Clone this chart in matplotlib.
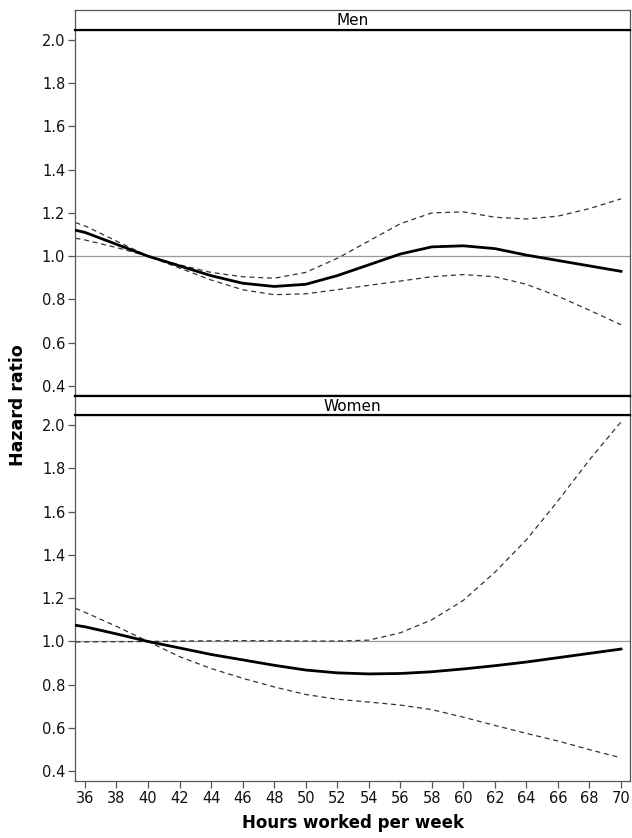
import numpy as np
import matplotlib
matplotlib.use("Agg")
import matplotlib.pyplot as plt

plt.rcParams['font.family'] = ['DejaVu Sans']

# hours worked per week
hours = [35.4, 36, 38, 40, 42, 44, 46, 48, 50, 52, 54, 56, 58, 60, 62, 64, 66, 68, 70]

# Men: hazard ratio and 95% CI
men_hr = [1.12, 1.11, 1.055, 1.0, 0.955, 0.91, 0.875, 0.86, 0.87, 0.91, 0.96, 1.01,
          1.043, 1.048, 1.035, 1.005, 0.98, 0.955, 0.93]
men_upper = [1.155, 1.14, 1.07, 1.0, 0.96, 0.925, 0.905, 0.898, 0.925, 0.99, 1.07, 1.15,
             1.2, 1.205, 1.18, 1.172, 1.185, 1.22, 1.265]
men_lower = [1.083, 1.075, 1.04, 1.0, 0.945, 0.89, 0.845, 0.822, 0.826, 0.845, 0.865, 0.885,
             0.905, 0.915, 0.905, 0.87, 0.815, 0.75, 0.683]

# Women: hazard ratio and 95% CI
women_hr = [1.075, 1.068, 1.035, 1.0, 0.97, 0.94, 0.915, 0.89, 0.868, 0.855, 0.85, 0.852,
            0.86, 0.873, 0.888, 0.905, 0.925, 0.945, 0.965]
women_upper = [0.998, 0.998, 0.999, 1.0, 1.002, 1.003, 1.004, 1.003, 1.002, 1.002, 1.006, 1.04,
               1.1, 1.19, 1.32, 1.47, 1.65, 1.84, 2.015]
women_lower = [1.153, 1.135, 1.07, 1.0, 0.93, 0.875, 0.83, 0.79, 0.755, 0.733, 0.72, 0.706,
               0.685, 0.65, 0.612, 0.575, 0.54, 0.5, 0.462]

panels = [("Men", men_hr, men_upper, men_lower),
          ("Women", women_hr, women_upper, women_lower)]

xticks = list(range(36, 71, 2))
yticks = [0.4, 0.6, 0.8, 1.0, 1.2, 1.4, 1.6, 1.8, 2.0]

W, H = 632, 838
fig = plt.figure(figsize=(W / 100, H / 100), dpi=100)

left = 75 / W
width = (630 - 75) / W
spine_col = "#555555"

# pixel positions of panels: (strip top, axes top, axes bottom)
layout = [(10.3, 29.7, 395.7), (395.7, 415.0, 781.0)]

for i, (name, hr, up, lo) in enumerate(panels):
    s_top, a_top, a_bot = layout[i]
    ax = fig.add_axes([left, 1 - a_bot / H, width, (a_bot - a_top) / H])
    ax.axhline(1.0, color="#999999", lw=0.9, zorder=1)
    ax.plot(hours, up, color="#333333", lw=0.9, ls=(0, (4, 3)), zorder=2)
    ax.plot(hours, lo, color="#333333", lw=0.9, ls=(0, (4, 3)), zorder=2)
    ax.plot(hours, hr, color="black", lw=2.0, zorder=3)
    ax.set_xlim(35.37, 70.57)
    ax.set_ylim(0.355, 2.047)
    ax.set_yticks(yticks)
    ax.set_yticklabels(["%.1f" % v for v in yticks])
    ax.set_xticks(xticks)
    ax.tick_params(axis="both", direction="out", length=5, width=0.9, color=spine_col,
                   labelsize=10.5, labelcolor="#111111", pad=2)
    for s in ax.spines.values():
        s.set_color(spine_col)
        s.set_linewidth(0.9)
    if i == 0:
        ax.tick_params(axis="x", bottom=False, labelbottom=False)
        ax.spines["bottom"].set_color("black")
        ax.spines["bottom"].set_linewidth(1.6)
    else:
        ax.set_xlabel("Hours worked per week", fontsize=12, fontweight="bold", labelpad=6)

    # header strip
    st = fig.add_axes([left, 1 - a_top / H, width, (a_top - s_top) / H])
    st.set_xticks([])
    st.set_yticks([])
    for s in st.spines.values():
        s.set_color(spine_col)
        s.set_linewidth(0.9)
    st.spines["bottom"].set_color("black")
    st.spines["bottom"].set_linewidth(1.6)
    if i == 1:
        st.spines["top"].set_color("black")
        st.spines["top"].set_linewidth(1.6)
    st.text(0.5, 0.45, name, ha="center", va="center", fontsize=11, transform=st.transAxes)

fig.text(18 / W, 1 - 405 / H, "Hazard ratio", rotation=90, ha="center", va="center",
         fontsize=12.5, fontweight="bold")

fig.savefig("out.png", dpi=100)
